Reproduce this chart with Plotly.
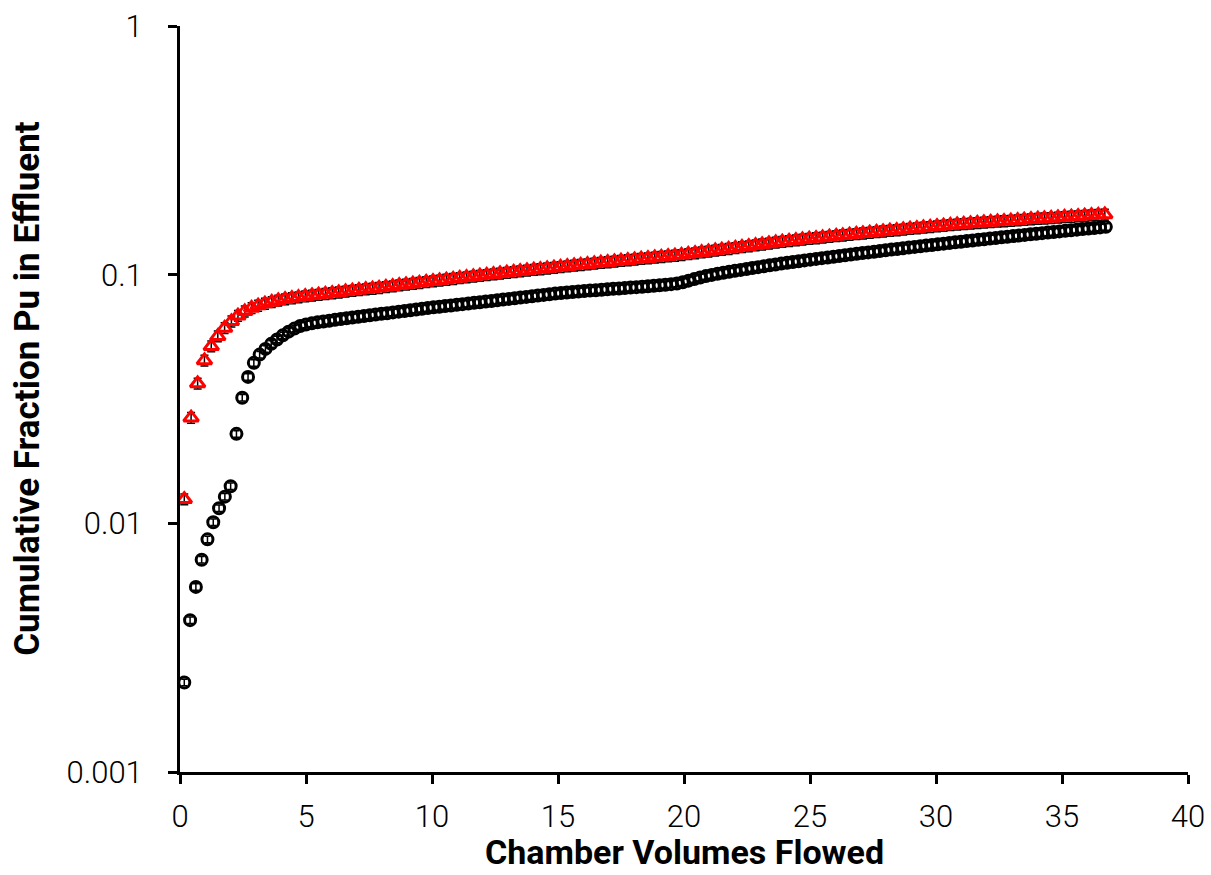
import plotly.graph_objects as go

# Series 1 (black circles)
black_x = [
    0.17, 0.40, 0.63, 0.86, 1.09, 1.32, 1.55, 1.78, 2.01, 2.24,
    2.47, 2.70, 2.93, 3.16, 3.39, 3.62, 3.85, 4.08, 4.31, 4.54,
    4.77, 5.00, 5.23, 5.46, 5.69, 5.92, 6.15, 6.38, 6.61, 6.84,
    7.07, 7.30, 7.53, 7.76, 7.99, 8.22, 8.45, 8.68, 8.91, 9.14,
    9.37, 9.60, 9.83, 10.06, 10.29, 10.52, 10.75, 10.98, 11.21, 11.44,
    11.67, 11.90, 12.13, 12.36, 12.59, 12.82, 13.05, 13.28, 13.51, 13.74,
    13.97, 14.20, 14.43, 14.66, 14.89, 15.12, 15.35, 15.58, 15.81, 16.04,
    16.27, 16.50, 16.73, 16.96, 17.19, 17.42, 17.65, 17.88, 18.11, 18.34,
    18.57, 18.80, 19.03, 19.26, 19.49, 19.72, 19.95, 20.18, 20.41, 20.64,
    20.87, 21.10, 21.33, 21.56, 21.79, 22.02, 22.25, 22.48, 22.71, 22.94,
    23.17, 23.40, 23.63, 23.86, 24.09, 24.32, 24.55, 24.78, 25.01, 25.24,
    25.47, 25.70, 25.93, 26.16, 26.39, 26.62, 26.85, 27.08, 27.31, 27.54,
    27.77, 28.00, 28.23, 28.46, 28.69, 28.92, 29.15, 29.38, 29.61, 29.84,
    30.07, 30.30, 30.53, 30.76, 30.99, 31.22, 31.45, 31.68, 31.91, 32.14,
    32.37, 32.60, 32.83, 33.06, 33.29, 33.52, 33.75, 33.98, 34.21, 34.44,
    34.67, 34.90, 35.13, 35.36, 35.59, 35.82, 36.05, 36.28, 36.51, 36.74,
]
black_y = [
    0.00229, 0.00408, 0.00555, 0.00714, 0.00862, 0.0101, 0.0115, 0.0128, 0.0141, 0.0229,
    0.0320, 0.0388, 0.0442, 0.0477, 0.0503, 0.0527, 0.0549, 0.0570, 0.0590, 0.0607,
    0.0622, 0.0630, 0.0637, 0.0643, 0.0648, 0.0653, 0.0658, 0.0663, 0.0668, 0.0673,
    0.0677, 0.0682, 0.0686, 0.0691, 0.0696, 0.0700, 0.0705, 0.0710, 0.0714, 0.0719,
    0.0724, 0.0729, 0.0734, 0.0739, 0.0743, 0.0748, 0.0752, 0.0757, 0.0761, 0.0766,
    0.0771, 0.0775, 0.0780, 0.0784, 0.0789, 0.0794, 0.0799, 0.0804, 0.0809, 0.0814,
    0.0819, 0.0824, 0.0829, 0.0834, 0.0839, 0.0844, 0.0848, 0.0852, 0.0856, 0.0859,
    0.0863, 0.0866, 0.0870, 0.0873, 0.0877, 0.0880, 0.0884, 0.0887, 0.0891, 0.0894,
    0.0898, 0.0902, 0.0906, 0.0911, 0.0916, 0.0922, 0.0932, 0.0946, 0.0960, 0.0974,
    0.0987, 0.0998, 0.1008, 0.1018, 0.1027, 0.1036, 0.1045, 0.1054, 0.1063, 0.1072,
    0.1081, 0.1090, 0.1099, 0.1108, 0.1117, 0.1125, 0.1133, 0.1141, 0.1149, 0.1157,
    0.1165, 0.1173, 0.1181, 0.1189, 0.1197, 0.1205, 0.1213, 0.1221, 0.1229, 0.1237,
    0.1245, 0.1253, 0.1261, 0.1269, 0.1277, 0.1285, 0.1293, 0.1301, 0.1309, 0.1317,
    0.1325, 0.1333, 0.1341, 0.1349, 0.1357, 0.1365, 0.1373, 0.1381, 0.1389, 0.1397,
    0.1405, 0.1413, 0.1421, 0.1429, 0.1437, 0.1445, 0.1453, 0.1461, 0.1469, 0.1477,
    0.1485, 0.1493, 0.1501, 0.1509, 0.1517, 0.1525, 0.1533, 0.1541, 0.1549, 0.1557,
]

# Series 2 (red triangles)
red_x = [
    0.17, 0.44, 0.70, 0.97, 1.24, 1.50, 1.77, 2.04, 2.30, 2.57, 2.84, 3.10, 3.37, 3.64, 3.90,
    4.17, 4.44, 4.70, 4.97, 5.24, 5.50, 5.77, 6.04, 6.30, 6.57, 6.84, 7.10, 7.37, 7.64, 7.90,
    8.17, 8.44, 8.70, 8.97, 9.24, 9.50, 9.77, 10.04, 10.30, 10.57, 10.84, 11.10, 11.37, 11.64, 11.90,
    12.17, 12.44, 12.70, 12.97, 13.24, 13.50, 13.77, 14.04, 14.30, 14.57, 14.84, 15.10, 15.37, 15.64, 15.90,
    16.17, 16.44, 16.70, 16.97, 17.24, 17.50, 17.77, 18.04, 18.30, 18.57, 18.84, 19.10, 19.37, 19.64, 19.90,
    20.17, 20.44, 20.70, 20.97, 21.24, 21.50, 21.77, 22.04, 22.30, 22.57, 22.84, 23.10, 23.37, 23.64, 23.90,
    24.17, 24.44, 24.70, 24.97, 25.24, 25.50, 25.77, 26.04, 26.30, 26.57, 26.84, 27.10, 27.37, 27.64, 27.90,
    28.17, 28.44, 28.70, 28.97, 29.24, 29.50, 29.77, 30.04, 30.30, 30.57, 30.84, 31.10, 31.37, 31.64, 31.90,
    32.17, 32.44, 32.70, 32.97, 33.24, 33.50, 33.77, 34.04, 34.30, 34.57, 34.84, 35.10, 35.37, 35.64, 35.90,
    36.17, 36.44, 36.70,
]
red_y = [
    0.0125, 0.0266, 0.0365, 0.0452, 0.0515, 0.0565, 0.0610, 0.0649, 0.0684, 0.0712, 0.0735, 0.0751, 0.0765, 0.0777, 0.0788,
    0.0797, 0.0805, 0.0812, 0.0819, 0.0825, 0.0831, 0.0837, 0.0843, 0.0849, 0.0855, 0.0861, 0.0867, 0.0873, 0.0879, 0.0885,
    0.0892, 0.0899, 0.0906, 0.0913, 0.0920, 0.0927, 0.0934, 0.0941, 0.0948, 0.0955, 0.0962, 0.0969, 0.0976, 0.0983, 0.0990,
    0.0997, 0.1004, 0.1011, 0.1018, 0.1025, 0.1032, 0.1039, 0.1046, 0.1053, 0.1060, 0.1067, 0.1074, 0.1081, 0.1088, 0.1095,
    0.1102, 0.1109, 0.1116, 0.1123, 0.1130, 0.1137, 0.1144, 0.1151, 0.1158, 0.1165, 0.1172, 0.1179, 0.1186, 0.1193, 0.1200,
    0.1210, 0.1220, 0.1230, 0.1240, 0.1250, 0.1260, 0.1270, 0.1280, 0.1291, 0.1302, 0.1313, 0.1324, 0.1335, 0.1346, 0.1357,
    0.1367, 0.1376, 0.1385, 0.1394, 0.1403, 0.1412, 0.1421, 0.1430, 0.1439, 0.1448, 0.1457, 0.1466, 0.1475, 0.1484, 0.1493,
    0.1502, 0.1511, 0.1520, 0.1529, 0.1538, 0.1547, 0.1556, 0.1565, 0.1574, 0.1583, 0.1592, 0.1600, 0.1607, 0.1614, 0.1621,
    0.1628, 0.1635, 0.1642, 0.1649, 0.1656, 0.1663, 0.1670, 0.1677, 0.1684, 0.1691, 0.1698, 0.1705, 0.1712, 0.1719, 0.1726,
    0.1733, 0.1740, 0.1747,
]

y_tick_vals = [0.001, 0.01, 0.1, 1]
y_tick_text = ["0.001", "0.01", "0.1", "1"]
x_tick_vals = [0, 5, 10, 15, 20, 25, 30, 35, 40]

x_title = "Chamber Volumes Flowed"
y_title = "Cumulative Fraction Pu in Effluent"

FONT = "Roboto, DejaVu Sans, sans-serif"

fig = go.Figure()
fig.add_trace(go.Scatter(
    x=black_x, y=black_y, mode="markers",
    marker=dict(symbol="circle-open", size=11, color="black", line=dict(width=3, color="black")),
    error_y=dict(type="percent", value=3, color="black", thickness=1.5, width=3),
    showlegend=False,
))
fig.add_trace(go.Scatter(
    x=red_x, y=red_y, mode="markers",
    marker=dict(symbol="triangle-up-open", size=13, color="#ff0000", line=dict(width=3, color="#ff0000")),
    error_y=dict(type="percent", value=5, color="black", thickness=1.5, width=4),
    showlegend=False,
))

fig.update_layout(
    width=1211, height=875,
    margin=dict(l=180, r=23, t=26, b=103),
    paper_bgcolor="white", plot_bgcolor="white",
    font=dict(family=FONT, color="black", size=24),
    annotations=[
        dict(text="<b>" + x_title + "</b>", xref="paper", yref="paper", x=0.5, y=-0.107,
             xanchor="center", yanchor="middle", showarrow=False,
             font=dict(size=34, family=FONT, color="black")),
        dict(text="<b>" + y_title + "</b>", xref="paper", yref="paper", x=-0.1508, y=0.515,
             xanchor="center", yanchor="middle", showarrow=False, textangle=-90,
             font=dict(size=35, family=FONT, color="black")),
    ],
)
fig.update_xaxes(
    range=[0, 40], tickvals=x_tick_vals,
    showline=True, linecolor="black", linewidth=3,
    ticks="outside", ticklen=9, tickwidth=3, tickcolor="black",
    showgrid=False, zeroline=False, automargin=False,
    ticklabelstandoff=6,
    tickfont=dict(size=31, family=FONT, weight=300),
)
fig.update_yaxes(
    type="log", range=[-3, 0], tickvals=y_tick_vals, ticktext=y_tick_text,
    showline=True, linecolor="black", linewidth=3,
    ticks="outside", ticklen=9, tickwidth=3, tickcolor="black",
    showgrid=False, zeroline=False, automargin=False,
    ticklabelstandoff=19,
    tickfont=dict(size=31, family=FONT, weight=300),
)

fig.write_html("out.html")
